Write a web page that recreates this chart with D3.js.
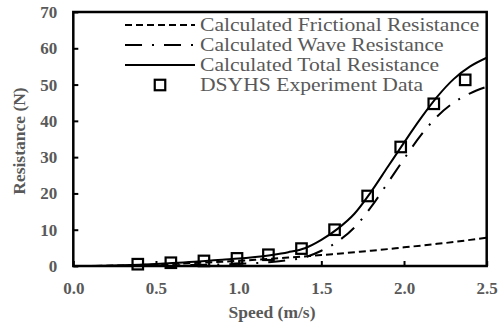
<!DOCTYPE html>
<html>
<head>
<meta charset="utf-8">
<script src="https://cdn.jsdelivr.net/npm/d3@7"></script>
<style>
  html, body { margin: 0; padding: 0; background: #fff; }
  svg { display: block; }
  text { font-family: "Liberation Serif", "Times New Roman", serif; }
</style>
</head>
<body>
<svg id="chart" width="499" height="329"></svg>
<script>
// Speeds (m/s) at which the calculated curves are sampled
const speeds = [0, 0.1, 0.2, 0.3, 0.4, 0.5, 0.6, 0.7, 0.8, 0.9, 1.0, 1.1, 1.2,
  1.3, 1.4, 1.5, 1.6, 1.7, 1.8, 1.9, 2.0, 2.1, 2.2, 2.3, 2.4, 2.5];

// Calculated resistance components (N)
const frictional = [0, 0.02, 0.07, 0.16, 0.26, 0.39, 0.55, 0.74, 0.95, 1.18, 1.43, 1.70, 1.99,
  2.31, 2.65, 3.0, 3.4, 3.8, 4.2, 4.65, 5.15, 5.6, 6.1, 6.6, 7.2, 7.8];
const wave = [0, 0, 0.01, 0.03, 0.06, 0.1, 0.16, 0.24, 0.34, 0.46, 0.6, 0.8, 1.1,
  1.6, 2.4, 4.2, 6.8, 10.6, 16.2, 22.8, 29.5, 35.9, 41.2, 45.0, 47.6, 49.4];
const total = [0, 0.02, 0.08, 0.2, 0.35, 0.55, 0.8, 1.1, 1.4, 1.75, 2.05, 2.5, 3.05,
  3.8, 4.9, 7.2, 10.3, 14.4, 20.4, 27.2, 34.0, 40.6, 46.6, 51.5, 55.0, 57.4];

// DSYHS towing tank measurements
const expSpeed = [0.39, 0.59, 0.79, 0.99, 1.18, 1.38, 1.58, 1.78, 1.98, 2.18, 2.37];
const expResistance = [0.5, 0.9, 1.4, 2.1, 3.1, 4.8, 10.0, 19.3, 32.8, 44.7, 51.3];

// Axis ticks
const xTicks = [0.0, 0.5, 1.0, 1.5, 2.0, 2.5];
const yTicks = [0, 10, 20, 30, 40, 50, 60, 70];

const seriesNames = [
  "Calculated Frictional Resistance",
  "Calculated Wave Resistance",
  "Calculated Total Resistance",
  "DSYHS Experiment Data"
];

const svg = d3.select("#chart");
const plotL = 73.3, plotR = 486.7, plotT = 12, plotB = 266;
const gray = "#595959";

const x = d3.scaleLinear().domain([0, 2.5]).range([plotL, plotR]);
const y = d3.scaleLinear().domain([0, 70]).range([plotB, plotT]);

// clip region for the plotted curves
svg.append("defs").append("clipPath").attr("id", "plotClip")
  .append("rect").attr("x", plotL).attr("y", plotT - 2)
  .attr("width", plotR - plotL).attr("height", plotB - plotT + 2);

const line = (vals) => d3.line()
  .x((d, i) => x(speeds[i]))
  .y(d => y(d))
  .curve(d3.curveMonotoneX)(vals);

const styles = [
  { dash: "7,4" },
  { dash: "17,10,2,10" },
  { dash: null }
];

const plot = svg.append("g").attr("clip-path", "url(#plotClip)");
[frictional, wave, total].forEach((vals, k) => {
  plot.append("path")
    .attr("d", line(vals))
    .attr("fill", "none")
    .attr("stroke", "#000")
    .attr("stroke-width", 2)
    .attr("stroke-dasharray", styles[k].dash);
});

// experiment markers
const sq = 10.5;
svg.append("g").selectAll("rect").data(expSpeed).join("rect")
  .attr("x", (d) => x(d) - sq / 2)
  .attr("y", (d, i) => y(expResistance[i]) - sq / 2)
  .attr("width", sq).attr("height", sq)
  .attr("fill", "none").attr("stroke", "#000").attr("stroke-width", 2.2);

// axes
const xAxis = d3.axisBottom(x).tickValues(xTicks).tickSize(-5).tickPadding(16)
  .tickFormat(d3.format(".1f"));
const yAxis = d3.axisLeft(y).tickValues(yTicks).tickSize(-5).tickPadding(16)
  .tickFormat(d3.format("d"));

function styleAxis(g) {
  g.select(".domain").remove();
  g.selectAll(".tick line").attr("stroke", "#000").attr("stroke-width", 2);
  g.selectAll(".tick text")
    .attr("fill", gray)
    .style("font-size", "17px")
    .style("font-weight", "bold")
    .style("font-family", "'Liberation Serif', 'Times New Roman', serif");
}

svg.append("g").attr("transform", `translate(0,${plotB})`).call(xAxis).call(styleAxis);
svg.append("g").attr("transform", `translate(${plotL},0)`).call(yAxis).call(styleAxis);

// frame
svg.append("rect")
  .attr("x", plotL).attr("y", plotT)
  .attr("width", plotR - plotL).attr("height", plotB - plotT)
  .attr("fill", "none").attr("stroke", "#000").attr("stroke-width", 2.5);

// axis titles
svg.append("text")
  .attr("x", 272).attr("y", 318)
  .attr("text-anchor", "middle")
  .attr("fill", gray).style("font-size", "17.5px").style("font-weight", "bold")
  .text("Speed (m/s)");

svg.append("text")
  .attr("transform", `translate(25,${(plotT + plotB) / 2 + 2}) rotate(-90)`)
  .attr("text-anchor", "middle")
  .attr("fill", gray).style("font-size", "17.5px").style("font-weight", "bold")
  .text("Resistance (N)");

// legend
const legend = svg.append("g");
const rowY = (i) => 25 + i * 20;
seriesNames.forEach((name, i) => {
  const yy = rowY(i);
  if (i < 3) {
    legend.append("line")
      .attr("x1", 125).attr("x2", 195).attr("y1", yy).attr("y2", yy)
      .attr("stroke", "#000").attr("stroke-width", 2)
      .attr("stroke-dasharray", styles[i].dash);
  } else {
    legend.append("rect")
      .attr("x", 160 - sq / 2).attr("y", yy - sq / 2)
      .attr("width", sq).attr("height", sq)
      .attr("fill", "none").attr("stroke", "#000").attr("stroke-width", 2.2);
  }
  // legend labels use a slightly widened face
  legend.append("text")
    .attr("transform", `translate(200,${yy + 5.7}) scale(1.2,1)`)
    .attr("fill", gray).style("font-size", "18px")
    .text(name);
});
</script>
</body>
</html>
